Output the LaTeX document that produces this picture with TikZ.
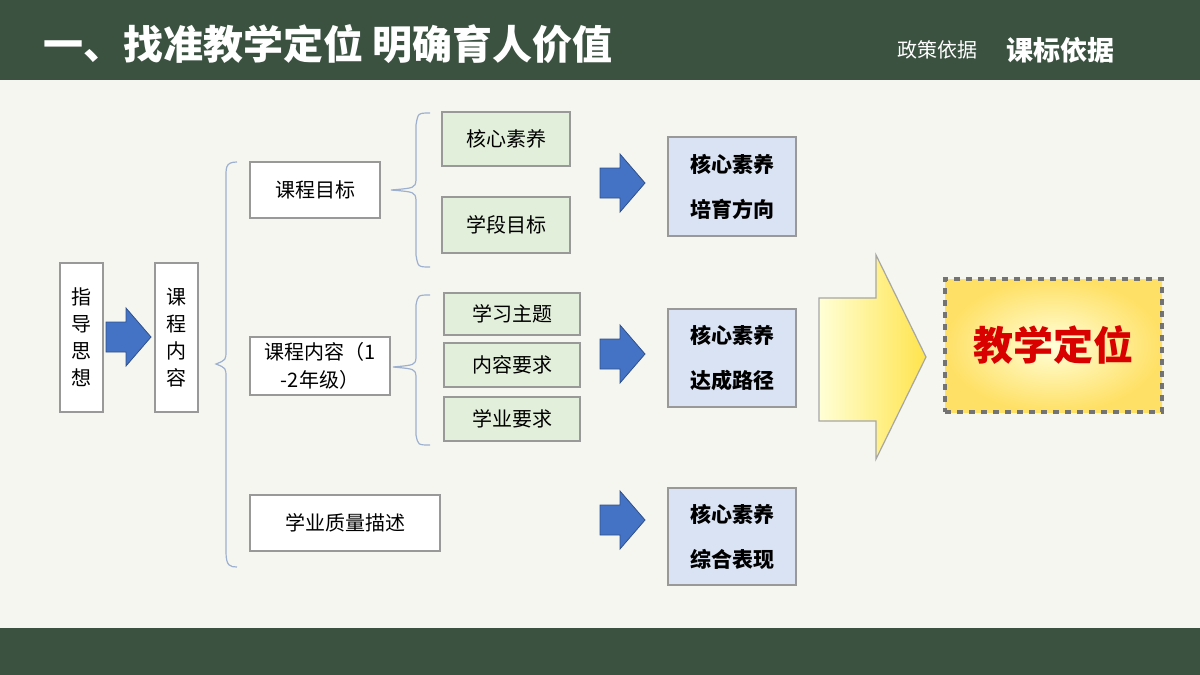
\documentclass[tikz,border=0pt]{standalone}
\usepackage{fontspec}
\setmainfont{Noto Sans CJK SC}
\definecolor{dg}{HTML}{3B5241}
\definecolor{bg}{HTML}{F6F6F0}
\definecolor{gf}{HTML}{E2EFDA}
\definecolor{bf}{HTML}{DAE3F3}
\definecolor{ab}{HTML}{4472C4}
\definecolor{brc}{HTML}{9DB0CF}
\begin{document}
\begin{tikzpicture}[x=0.5pt,y=-0.5pt,
 bx/.style={draw=gray!80,line width=0.6pt,font=\fontsize{10}{12}\selectfont,inner sep=0},
 wb/.style={bx,fill=white},
 gb/.style={bx,fill=gf},
 bb/.style={bx,fill=bf,font=\fontsize{10.5}{22.5}\selectfont\bfseries,align=center},
 ba/.style={fill=ab,draw=ab!70!black,line width=0.4pt},
 br/.style={draw=brc,line width=0.6pt}]
\useasboundingbox (0,0) rectangle (1200,675);
\fill[bg] (0,0) rectangle (1200,675);
\fill[dg] (0,0) rectangle (1200,80);
\fill[dg] (0,628) rectangle (1200,675);
\node[anchor=west,text=white,font=\fontsize{20}{24}\selectfont\bfseries] (title) at (36,44) {一、找准教学定位 明确育人价值};
\node[text=white,font=\fontsize{10}{12}\selectfont] (p) at (937,50) {政策依据};
\node[text=white,font=\fontsize{13.5}{16}\selectfont\bfseries] (k) at (1060,50) {课标依据};
% left boxes
\node[wb,minimum width=21.5pt,minimum height=74.5pt,align=center,font=\fontsize{10}{13.5}\selectfont] (zd) at (81.5,337.5) {指\\导\\思\\想};
\node[wb,minimum width=21.5pt,minimum height=74.5pt,align=center,font=\fontsize{10}{13.5}\selectfont] (kn) at (176.5,337.5) {课\\程\\内\\容};
\foreach \cx/\cy in {128/337,622/183,622/354,622/520}
  \draw[ba] (\cx-22,\cy-15) -- (\cx-2,\cy-15) -- (\cx-2,\cy-29) -- (\cx+23,\cy) -- (\cx-2,\cy+29) -- (\cx-2,\cy+15) -- (\cx-22,\cy+15) -- cycle;
% big brace
\draw[br] (237,162) .. controls (225,162) and (226,168) .. (226,180) -- (226,350) .. controls (226,360) .. (216,364) .. controls (226,368) .. (226,378) -- (226,552) .. controls (226,566) and (230,567) .. (237,567);
% level 2
\node[wb,minimum width=65pt,minimum height=28pt] (mb) at (315,190) {课程目标};
\node[wb,minimum width=70pt,minimum height=29pt,align=center,font=\fontsize{10}{14}\selectfont] (nr) at (320,366) {课程内容（1\\-2年级）};
\node[wb,minimum width=95pt,minimum height=28pt] (zl) at (345,523) {学业质量描述};
% small braces
\draw[br] (430,113) .. controls (418,113) .. (416,125) -- (416,180) .. controls (415,188) .. (391,190) .. controls (415,192) .. (416,200) -- (416,255) .. controls (418,267) .. (430,267);
\draw[br] (430,295) .. controls (418,295) .. (416,305) -- (416,358) .. controls (415,365) .. (393,367) .. controls (415,369) .. (416,376) -- (416,435) .. controls (418,445) .. (430,445);
% green boxes
\node[gb,minimum width=64pt,minimum height=27pt] (g1) at (506,139) {核心素养};
\node[gb,minimum width=64pt,minimum height=28pt] (g2) at (506,225) {学段目标};
\node[gb,minimum width=68pt,minimum height=21pt] (g3) at (512,314) {学习主题};
\node[gb,minimum width=68pt,minimum height=22pt] (g4) at (512,365) {内容要求};
\node[gb,minimum width=68pt,minimum height=22pt] (g5) at (512,419) {学业要求};
% blue boxes
\node[bb,minimum width=64pt,minimum height=49.5pt] (b1) at (732,186.5) {核心素养\\培育方向};
\node[bb,minimum width=64pt,minimum height=49pt] (b2) at (732,358) {核心素养\\达成路径};
\node[bb,minimum width=64pt,minimum height=48.5pt] (b3) at (732,536.5) {核心素养\\综合表现};
% big arrow
\shade[left color=white!60!yellow!40,right color=yellow!70!orange!70,draw=gray!70,line width=0.6pt]
 (819,298) -- (876,298) -- (876,255) -- (926,357) -- (876,459) -- (876,421) -- (819,421) -- cycle;
% target
\shade[inner color=yellow!15!white,outer color=orange!40!yellow!60] (945,279) rectangle (1162,412);
\node[draw=gray!90!black,dashed,line width=1.6pt,minimum width=108.5pt,minimum height=66.5pt,inner sep=0,text=red!85!black,font=\fontsize{20}{24}\selectfont\bfseries] (jx) at (1053.5,345.5) {教学定位};
\end{tikzpicture}
\end{document}
